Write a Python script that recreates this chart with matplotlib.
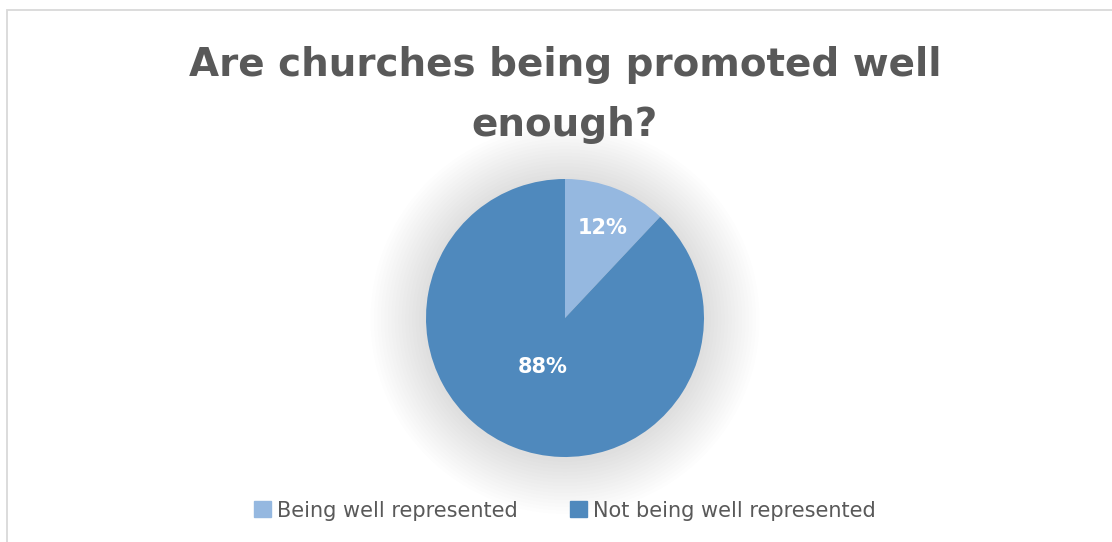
import matplotlib.pyplot as plt
from matplotlib.patches import Circle, Rectangle

# Survey answers
categories = ["Being well represented", "Not being well represented"]
shares = [12, 88]
colors = ["#95B8E0", "#4F89BD"]
title_lines = ["Are churches being promoted well", "enough?"]
TEXT_GREY = "#595959"

fig = plt.figure(figsize=(11.12, 5.42), dpi=100)

# chart frame (light grey border like the spreadsheet chart area)
fig.patches.append(Rectangle((6.5 / 1112, -0.1), 1.2, 1.1 - 9.5 / 542,
                             transform=fig.transFigure, fill=False,
                             edgecolor="#D9D9D9", linewidth=1.3))

# pie axes: centre (565, 318), radius ~139 px
r_px = 139
cx, cy = 565, 318
ax = fig.add_axes([(cx - r_px) / 1112, (542 - cy - r_px) / 542,
                   2 * r_px / 1112, 2 * r_px / 542])

# soft shadow glow behind the pie
n_rings = 16
for i in range(n_rings):
    ax.add_patch(Circle((0.0, -0.01), 1.0 + 0.025 * (n_rings - i),
                        color="#000000", alpha=0.008, linewidth=0,
                        zorder=0, clip_on=False))

wedges, texts, autotexts = ax.pie(
    shares, colors=colors, startangle=90, counterclock=False,
    autopct="%1.0f%%", pctdistance=0.65, radius=1.0,
    wedgeprops=dict(linewidth=0),
    textprops=dict(color="white", fontsize=15, fontweight="bold"))
for w in wedges:
    w.set_zorder(2)
for t in autotexts:
    t.set_zorder(3)
autotexts[0].set_position((0.27, 0.65))
autotexts[1].set_position((-0.16, -0.35))
ax.set_xlim(-1, 1)
ax.set_ylim(-1, 1)
ax.set_aspect("equal")
ax.axis("off")

# title, two centred lines
for line, y_px in zip(title_lines, [76, 136]):
    fig.text(0.508, (542 - y_px) / 542, line, ha="center", va="baseline",
             fontsize=28, fontweight="bold", color=TEXT_GREY)

handles = [Rectangle((0, 0), 1, 1, color=c) for c in colors]
fig.legend(handles, categories, loc="center", bbox_to_anchor=(0.508, 0.058),
           ncol=2, frameon=False, fontsize=15, labelcolor=TEXT_GREY,
           handlelength=0.8, handleheight=0.8, handletextpad=0.3,
           columnspacing=2.5)

fig.savefig("out.png", dpi=100)
